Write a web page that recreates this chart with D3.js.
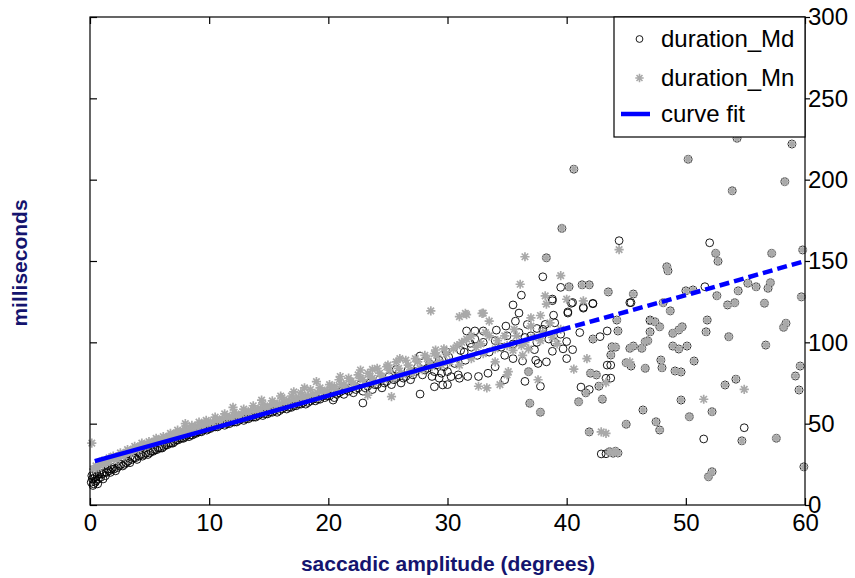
<!DOCTYPE html>
<html>
<head>
<meta charset="utf-8">
<script src="https://cdn.jsdelivr.net/npm/d3@7"></script>
<style>
  body { margin: 0; background: #fff; }
  svg { display: block; font-family: "Liberation Sans", Arial, sans-serif; }
</style>
</head>
<body>
<svg id="chart" width="855" height="578"></svg>
<script>
// [amplitude (deg), duration (ms)]
var durationMd = [
  [0.1,14],[0.15,18],[0.2,16],[0.25,12],[0.3,13],[0.35,19],[0.4,17],[0.45,14],[0.5,15],[0.55,20],[0.6,18],[0.65,13],[0.7,16],
  [0.8,19],[0.9,17],[1.0,19],[1.1,16],[1.2,20],[1.4,20],[1.6,21],[1.8,22],[2.0,22],[2.3,23],[2.6,25],[2.9,25],
  [3.2,27],[3.5,28],[3.8,29],[4.1,30],[4.4,30],[4.7,32],[5.0,32],[5.3,33],[5.6,34],[5.9,35],[6.2,36],[6.5,37],
  [6.8,38],[7.1,39],[7.4,40],[7.7,41],[8.0,42],[8.3,42],[8.6,43],[8.9,44],[9.2,45],[9.5,46],[9.8,46],[10.1,47],
  [10.5,48],[10.9,49],[11.3,49],[11.7,50],[12.1,51],[12.5,52],[12.9,52],[13.3,53],[13.7,54],[14.1,55],[14.5,55],
  [14.9,56],[15.3,57],[15.7,57],[16.1,59],[16.5,59],[16.9,60],[17.3,61],[17.7,62],[18.1,62],[18.5,64],[18.9,64],
  [19.3,65],[19.7,66],[20.1,67],[20.5,66],[20.9,69],[21.3,68],[21.7,70],[22.1,69],[22.5,72],[22.9,70],[23.3,73],
  [23.7,71],[24.1,74],[24.5,72],[24.9,76],[25.3,74],[25.7,78],[26.1,75],[26.5,79],[26.9,77],[27.3,82],[27.9,80],
  [28.3,84],[28.7,79],[29.1,86],[29.5,81],
  [1.3,18],[1.5,22],[1.7,20],[1.9,23],[2.15,21],[2.45,24],[2.75,24],[3.05,26],[3.35,26],[3.65,29],[3.95,28],
  [4.25,31],[4.55,31],[4.85,31],[5.15,33],[5.45,34],[5.75,35],[6.05,35],[6.35,37],[6.65,38],[6.95,38],[7.25,40],
  [7.55,41],[7.85,41],[8.15,43],[8.45,43],[8.75,44],[9.05,45],[9.35,45],[9.65,47],[9.95,47],[10.3,48],[10.7,48],
  [11.1,50],[11.5,50],[11.9,51],[12.3,51],[12.7,53],[13.1,53],[13.5,54],[13.9,54],[14.3,56],[14.7,56],[15.1,57],
  [15.5,58],[15.9,58],[16.3,60],[16.7,60],[17.1,61],[17.5,62],[17.9,63],[18.3,63],[18.7,65],[19.1,65],[19.5,67],
  [19.9,67],[20.3,69],[20.7,68],[21.1,70],[21.5,71],[21.9,72],[22.3,71],[22.7,74],[23.1,72],[23.5,75],[23.9,74],
  [24.3,77],[24.7,75],[25.1,79],[25.5,77],[25.9,81],[26.3,78],[26.7,83],[27.1,80],[27.5,85],[28.1,83],[28.5,87],
  [28.9,82],[29.3,89],[29.7,85],[30.1,91],[30.6,87],[31.1,95],[31.5,89],[32,97],[32.5,92],[33,100],[33.5,94],
  [34,101],[34.5,97],[35,104],[35.5,99],[36,106],[36.5,103],[37,104],[37.5,100],[38,108],[38.5,102],[39,112],[39.5,105],
  [27.7,68.2],[20.4,64.5],[22.9,62.7],[25.7,83.4],[27.7,91.6],[29.9,94.2],[31.9,99.4],[30.3,78.9],[31.0,77.9],
  [29.6,73.8],[28.9,72.7],
  [36.2,129],[35.5,123],[36.0,118],[31.6,107],[32.3,107],[33.0,107],[34.1,107.5],[34.9,110],[35.7,113],[36.7,111],
  [37.5,108.5],[38.2,111],[38.9,116.7],[38.8,126.6],[40.1,118.7],[40.5,124.5],[41.4,121.5],[42.2,124],[41.1,106],
  [40.0,100.5],[39.0,100],[39.7,96],[40.5,95.5],[38.8,94.5],[37.3,95.5],[37.4,89],[37.6,87],[36.3,88.5],[35.5,90],
  [34.8,92],[34.0,85],[34.8,77],[33.4,81],[32.6,79],[31.7,79],[30.9,80],[30.0,82],[29.3,78],[30.0,74],[31.4,94],
  [32.3,102],[36.5,76],[37.8,73],[38.3,88],[40.0,90],[42.8,103.5],[43.4,107],[43.7,86],[43.7,78],[41.2,72.5],
  [41.9,71],[43.3,31.5],
  [38.0,140.3],[39.5,133.8],[44.4,162.5],[38.8,125.6],[40.4,124],[42.2,123.7],[40.1,118],[41.4,121],[45.3,124.4],
  [52.0,161.2],[45.4,124.4],[51.6,134.2],[47.0,113.3],[43.4,86],[43.3,77.9],[51.5,40.6],[54.9,47.5],[42.9,31.4]
];

var durationMn = [
  [0.15,38],[0.3,22],[0.5,24],[0.7,23],[0.9,26],[1.1,25],[1.3,27],[1.5,27],[1.8,28],[2.1,29],[2.4,30],[2.7,31],
  [3.0,32],[3.3,33],[3.6,34],[3.9,35],[4.2,36],[4.5,37],[4.8,37],[5.1,38],[5.4,39],[5.7,40],[6.0,40],[6.3,41],
  [6.6,42],[6.9,43],[7.2,44],[7.5,44],[7.8,45],[8.1,46],[8.4,47],[8.7,47],[9.0,48],[9.3,49],[9.6,50],[9.9,50],
  [10.3,51],[10.7,52],[11.1,53],[11.5,54],[11.9,54],[12.3,55],[12.7,56],[13.1,57],[13.5,58],[13.9,58],[14.3,59],
  [14.7,60],[15.1,61],[15.5,62],[15.9,62],[16.3,63],[16.7,64],[17.1,65],[17.5,66],[17.9,66],[18.3,67],[18.7,68],
  [19.1,69],[19.5,70],[19.9,70],[20.3,72],[20.7,71],[21.1,74],[21.5,72],[21.9,76],[22.3,73],[22.7,78],[23.1,74],
  [23.5,79],[23.9,75],[24.3,81],[24.7,77],[25.1,83],[25.5,78],[25.9,84],[26.3,80],[26.7,86],[27.1,81],[27.5,88],
  [27.9,83],[28.3,90],[28.7,85],[29.1,92],[29.5,86],[29.9,93],
  [1.0,27],[1.4,26],[1.6,29],[1.95,30],[2.25,28],[2.55,32],[2.85,30],[3.15,34],[3.45,32],[3.75,36],[4.05,34],
  [4.35,38],[4.65,36],[4.95,39],[5.25,38],[5.55,41],[5.85,39],[6.15,42],[6.45,41],[6.75,44],[7.05,43],[7.35,46],
  [7.65,44],[7.95,47],[8.25,46],[8.55,49],[8.85,48],[9.15,51],[9.45,49],[9.75,52],[10.1,51],[10.5,54],[10.9,52],
  [11.3,56],[11.7,54],[12.1,57],[12.5,55],[12.9,59],[13.3,57],[13.7,61],[14.1,59],[14.5,62],[14.9,60],[15.3,64],
  [15.7,62],[16.1,66],[16.5,64],[16.9,67],[17.3,65],[17.7,69],[18.1,67],[18.5,71],[18.9,68],[19.3,72],[19.7,70],
  [20.1,74],[20.5,73],[20.9,77],[21.3,74],[21.7,78],[22.1,75],[22.5,80],[22.9,77],[23.3,81],[23.7,78],[24.1,84],
  [24.5,79],[24.9,85],[25.7,88],[26.1,81],[26.5,89],[26.9,83],[27.3,90],[27.7,84],[28.1,92],[28.5,87],[28.9,93],
  [29.3,88],[29.7,96],[30.8,98],[31.6,102],[32.4,97],[33.2,106],[34,96],[34.8,104],[35.6,108],[36.2,98],[37,110],
  [37.8,101],[38.6,112],[39.2,99],[18,72],[12,60],[8,50],[16,67],[21,79],[26,90],
  [14.4,64.5],[17.1,69.6],[19.0,75.8],[22.7,83],[23.7,83.4],[25.0,86],[29,95.3],[25.3,66.6],[23.3,67.6],
  [30.5,96],[31.2,100],[32,104],[32.8,99],[33.5,104],[34.2,101],[35,98],[35.8,104],[36.5,100],[37.2,103],[38,106],
  [38.8,103],[39.5,108],[30.2,88],[31,86],[32,90],[33,93],[34,88],[35.5,95],[36.8,96],
  [38.2,128.5],[38.3,123.5],[31.6,117],[33.0,118],[37.0,115],[37.8,116.5],[40.0,126.5],[41.4,125.5],[41.7,90],
  [40.6,83.5],[37.6,77],[43.3,44],[36.3,92],[35.1,82],[32.6,73],[33.3,72],[34.4,74],[35.0,80],[33.5,113],
  [36.5,152.6],[39.5,141],[36.1,135.7],[28.6,119.3],[31.5,117.8],[31.0,115.8],[32.9,117.8],[44.4,157],
  [54.9,71.1],[51.5,65],[42.9,45],[43.3,75.2],[45.3,88]
];

// single-sample bins: median and mean coincide
var durationSame = [
  [36.8,82],[36.9,62.5],[37.8,57],[44.1,97],[42.7,73],[42.0,81],[42.5,80],[41.6,69],[41.0,63.5],[43.0,65],
  [41.9,45],[44.1,33],[44.3,32],[42.2,102],[40.6,206.4],[39.6,170],[38.3,152],[40.2,134.2],[41.3,135.4],
  [41.9,135.4],[43.5,131],[44.2,113.7],[50.2,212.5],[53.9,193.2],[58.3,198.8],[58.9,221.9],[54.3,225.4],
  [52.5,154.7],[52.7,149.8],[48.4,146.5],[48.5,144],[57.2,154.7],[59.8,156.8],[45.6,129.7],[48.1,124.4],
  [48.7,119.4],[50.0,131.7],[50.6,132.2],[52.6,128.7],[54.4,131.7],[55.2,136.3],[55.9,134.2],[56.9,133.2],
  [57.1,136.7],[53.5,123],[54.1,124.4],[56.6,124],[59.7,128],[51.8,113.7],[47.0,113.7],[51.7,106.5],[44.3,107],
  [47.4,112.7],[47.8,109.6],[47.0,106.5],[46.8,101],[46.6,100.4],[48.9,105.5],[49.4,107.6],[49.7,109.6],
  [58.4,111.7],[58.2,109.2],[53.6,103.5],[56.7,98.3],[43.8,97.3],[43.7,92.2],[45.3,96.3],[45.6,97.7],[46.3,96.3],
  [48.9,97.7],[49.4,95.9],[50.1,97.7],[45.0,87.5],[45.4,85.4],[46.6,84],[47.9,89.1],[48.0,84.4],[49.1,82.4],
  [49.6,81.8],[50.7,88.5],[53.3,73.8],[54.2,77.3],[49.6,64.5],[46.4,58.4],[50.3,54.3],[52.2,57.4],[47.5,51.2],
  [47.8,46.1],[45.0,49.6],[54.7,39.5],[57.6,41],[43.6,32.8],[43.9,31.8],[51.9,17.4],[52.2,20.5],[59.9,23.5],
  [59.2,79.3],[59.5,70.7],[59.6,85.4]
];

var fitAmp = [0.4, 10, 20, 30, 39.5, 50, 60];
var fitDur = [27, 46.5, 67.2, 88, 107.6, 129, 150];
var fitMeasuredMax = 39.5;

var xTicks = [0, 10, 20, 30, 40, 50, 60];
var yTicks = [0, 50, 100, 150, 200, 250, 300];
var legendLabels = ["duration_Md", "duration_Mn", "curve fit"];

var plotL = 90, plotR = 805, plotT = 17, plotB = 505;
var navy = "#14146e", grey = "#a9a9a9", blue = "#0000ff";
var circleR = 3.9, starR = 4.6;

var svg = d3.select("#chart");
svg.append("rect").attr("width", 855).attr("height", 578).attr("fill", "#fff");

var x = d3.scaleLinear().domain([0, 60]).range([plotL, plotR]);
var y = d3.scaleLinear().domain([0, 300]).range([plotB, plotT]);

// MATLAB style '*' marker: plus and cross
function starPath(r) {
  var d = r * 0.7071;
  return "M" + (-r) + ",0L" + r + ",0M0," + (-r) + "L0," + r +
    "M" + (-d) + "," + (-d) + "L" + d + "," + d + "M" + (-d) + "," + d + "L" + d + "," + (-d);
}

var g = svg.append("g");

var mdAll = durationMd.concat(durationSame);
var mnAll = durationMn.concat(durationSame);

g.append("g").selectAll("circle")
  .data(mdAll)
  .join("circle")
  .attr("cx", function (d) { return x(d[0]); })
  .attr("cy", function (d) { return y(d[1]); })
  .attr("r", circleR)
  .attr("fill", "none")
  .attr("stroke", "#000")
  .attr("stroke-width", 0.9);

g.append("g").selectAll("path")
  .data(mnAll)
  .join("path")
  .attr("transform", function (d) { return "translate(" + x(d[0]) + "," + y(d[1]) + ")"; })
  .attr("d", starPath(starR))
  .attr("fill", "none")
  .attr("stroke", grey)
  .attr("stroke-width", 1.7);

// curve fit: solid over measured range, dashed extrapolation
var fitPts = fitAmp.map(function (a, i) { return [a, fitDur[i]]; });
var line = d3.line()
  .x(function (d) { return x(d[0]); })
  .y(function (d) { return y(d[1]); });

g.append("path")
  .datum(fitPts.filter(function (d) { return d[0] <= fitMeasuredMax; }))
  .attr("fill", "none")
  .attr("stroke", blue)
  .attr("stroke-width", 4.5)
  .attr("d", line);

g.append("path")
  .datum(fitPts.filter(function (d) { return d[0] >= fitMeasuredMax; }))
  .attr("fill", "none")
  .attr("stroke", blue)
  .attr("stroke-width", 4.5)
  .attr("stroke-dasharray", "10,5")
  .attr("d", line);

// frame
svg.append("rect")
  .attr("x", plotL).attr("y", plotT)
  .attr("width", plotR - plotL).attr("height", plotB - plotT)
  .attr("fill", "none").attr("stroke", "#000").attr("stroke-width", 1.2);

// bottom axis (ticks inward)
var xAxis = svg.append("g")
  .attr("transform", "translate(0," + plotB + ")")
  .call(d3.axisBottom(x).tickValues(xTicks).tickSize(-7).tickPadding(9).tickFormat(d3.format("d")));
xAxis.select(".domain").remove();
xAxis.selectAll("text").style("font-size", "24px").attr("fill", "#000");
xAxis.selectAll("line").attr("stroke-width", 1.2);

// top ticks
svg.append("g")
  .attr("transform", "translate(0," + plotT + ")")
  .call(d3.axisTop(x).tickValues(xTicks).tickSize(-7).tickFormat(""))
  .call(function (s) { s.select(".domain").remove(); s.selectAll("line").attr("stroke-width", 1.2); });

// left ticks inward
svg.append("g")
  .attr("transform", "translate(" + plotL + ",0)")
  .call(d3.axisLeft(y).tickValues(yTicks).tickSize(-7).tickFormat(""))
  .call(function (s) { s.select(".domain").remove(); s.selectAll("line").attr("stroke-width", 1.2); });

// right axis with labels
var yAxis = svg.append("g")
  .attr("transform", "translate(" + plotR + ",0)")
  .call(d3.axisRight(y).tickValues(yTicks).tickSize(5).tickPadding(0).tickFormat(d3.format("d")));
yAxis.select(".domain").remove();
yAxis.selectAll("text").style("font-size", "24px").attr("fill", "#000").attr("x", 3);
yAxis.selectAll("line").attr("stroke-width", 1.2);

// axis titles
svg.append("text")
  .attr("x", 448).attr("y", 571)
  .attr("text-anchor", "middle")
  .attr("fill", navy)
  .style("font-size", "21px").style("font-weight", "bold")
  .text("saccadic amplitude (degrees)");

svg.append("text")
  .attr("transform", "translate(27,263) rotate(-90)")
  .attr("text-anchor", "middle")
  .attr("fill", navy)
  .style("font-size", "21px").style("font-weight", "bold")
  .text("milliseconds");

// legend
var lg = svg.append("g");
lg.append("rect")
  .attr("x", 614).attr("y", plotT)
  .attr("width", plotR - 614).attr("height", 120)
  .attr("fill", "#fff").attr("stroke", "#000").attr("stroke-width", 1.2);

var rowY = [39, 78, 114];
lg.append("circle").attr("cx", 639.5).attr("cy", rowY[0]).attr("r", 3.4)
  .attr("fill", "none").attr("stroke", "#000").attr("stroke-width", 0.9);
lg.append("path").attr("transform", "translate(639.5," + rowY[1] + ")")
  .attr("d", starPath(4.2)).attr("fill", "none").attr("stroke", grey).attr("stroke-width", 1.6);
lg.append("line").attr("x1", 621).attr("x2", 650).attr("y1", rowY[2]).attr("y2", rowY[2])
  .attr("stroke", blue).attr("stroke-width", 4.5);

lg.selectAll("text.lab")
  .data(legendLabels)
  .join("text")
  .attr("class", "lab")
  .attr("x", 661)
  .attr("y", function (d, i) { return rowY[i]; })
  .attr("dy", "0.35em")
  .style("font-size", "24px")
  .attr("fill", "#000")
  .text(function (d) { return d; });
</script>
</body>
</html>
